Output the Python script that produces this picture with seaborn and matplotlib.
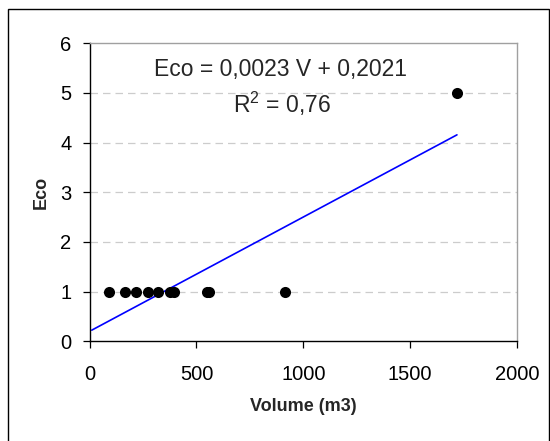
import numpy as np
import pandas as pd
import seaborn as sns
import matplotlib
matplotlib.use("Agg")
import matplotlib.pyplot as plt
from matplotlib.patches import Rectangle

# Data
volume = [92, 167, 219, 271, 322, 376, 396, 550, 559, 914, 1719]
eco = [1, 1, 1, 1, 1, 1, 1, 1, 1, 1, 5]
trend_slope = 0.0023
trend_intercept = 0.2021
trend_range = [10, 1719]
x_ticks = [0, 500, 1000, 1500, 2000]
y_ticks = [0, 1, 2, 3, 4, 5, 6]
equation_text = "Eco = 0,0023 V + 0,2021"
r2_text = "R$^2$ = 0,76"

sns.set_style("white")
plt.rcParams['font.family'] = ['Liberation Sans', 'DejaVu Sans']
plt.rcParams['mathtext.fontset'] = 'custom'
plt.rcParams['mathtext.rm'] = 'Liberation Sans'
plt.rcParams['mathtext.it'] = 'Liberation Sans'

df = pd.DataFrame({"Volume": volume, "Eco": eco})

fig = plt.figure(figsize=(5.5, 4.41), dpi=100)
ax = fig.add_axes([0.163, 0.226, 0.777, 0.676])

# grid
for y in y_ticks[1:-1]:
    ax.axhline(y, color="#cccccc", lw=0.9, ls=(0, (6, 4)), zorder=0)

# trendline
tx = np.array(trend_range, dtype=float)
ty = trend_slope * tx + trend_intercept
ax.plot(tx, ty, color="#0000ff", lw=1.2, zorder=2)

sns.scatterplot(data=df, x="Volume", y="Eco", ax=ax, color="black",
                s=64, edgecolor="black", linewidth=0, zorder=3)

ax.set_xlim(0, 2000)
ax.set_ylim(0, 6)
ax.set_xticks(x_ticks)
ax.set_yticks(y_ticks)
ax.tick_params(axis="both", direction="out", length=5, width=0.9,
               labelsize=14.5, colors="black", left=True, bottom=True)
ax.tick_params(axis="x", pad=12)
ax.tick_params(axis="y", pad=8)

for s in ["left", "bottom"]:
    ax.spines[s].set_color("black")
    ax.spines[s].set_linewidth(1.0)
for s in ["top", "right"]:
    ax.spines[s].set_color("#a0a0a0")
    ax.spines[s].set_linewidth(1.0)

ax.set_xlabel("Volume (m3)", fontsize=13, fontweight="bold", va="center")
ax.set_ylabel("Eco", fontsize=13, fontweight="bold", va="center")
ax.xaxis.set_label_coords(0.5, -0.22)
ax.yaxis.set_label_coords(-0.114, 0.5)

ax.text(894, 5.48, equation_text, fontsize=16.5, ha="center", va="center")
ax.text(899, 4.78, r2_text, fontsize=16.5, ha="center", va="center")

# figure border
fig.patches.append(Rectangle((8.4 / 550, -0.05), (549 - 8.4) / 550, 1.05 - 9 / 441,
                             transform=fig.transFigure, fill=False,
                             edgecolor="black", lw=1.0))

fig.savefig("out.png", dpi=100)
